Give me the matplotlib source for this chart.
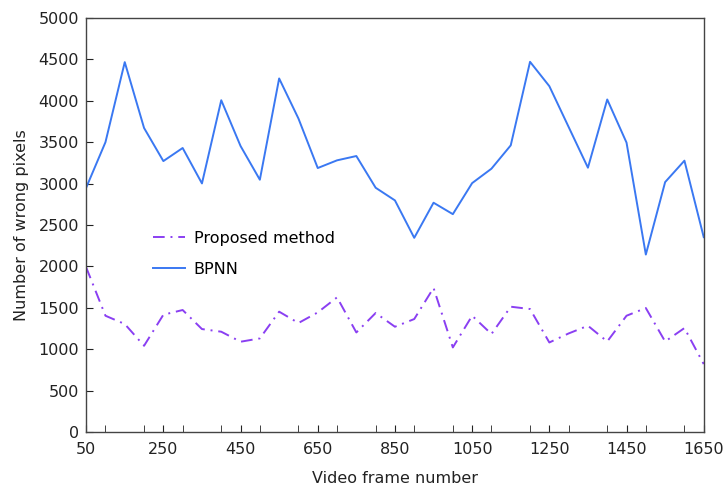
import matplotlib
matplotlib.use("Agg")
import matplotlib.pyplot as plt
from matplotlib.ticker import MultipleLocator

# Data (every 50 frames)
frames = list(range(50, 1651, 50))

bpnn = [2950, 3500, 4467, 3672, 3272, 3430, 3002, 4007, 3454, 3047,
        4270, 3786, 3188, 3281, 3333, 2950, 2797, 2345, 2769, 2631,
        3006, 3180, 3462, 4471, 4177, 3684, 3192, 4016, 3495, 2143,
        3018, 3277, 2353]

proposed = [1989, 1404, 1304, 1041, 1416, 1473, 1243, 1211, 1090, 1130,
            1453, 1316, 1444, 1626, 1202, 1437, 1271, 1364, 1740, 1021,
            1404, 1183, 1513, 1485, 1081, 1190, 1283, 1093, 1404, 1497,
            1093, 1255, 820]

x_ticks = list(range(50, 1651, 200))
y_ticks = list(range(0, 5001, 500))

plt.rcParams['font.family'] = ['DejaVu Sans']

fig = plt.figure(figsize=(7.24, 4.87), dpi=100)
ax = fig.add_axes([0.119, 0.113, 0.853, 0.850])

ax.plot(frames, proposed, color='#8a3ff2', linestyle=(0, (6, 3, 1, 3)),
        linewidth=1.4, label='Proposed method')
ax.plot(frames, bpnn, color='#3a78f2', linewidth=1.4, label='BPNN')

ax.set_xlim(50, 1650)
ax.set_ylim(0, 5000)
ax.set_xticks(x_ticks)
ax.xaxis.set_minor_locator(MultipleLocator(100))
ax.set_yticks(y_ticks)

ax.tick_params(axis='both', which='both', direction='in', labelsize=11.5,
               colors='#222222', top=False, right=False)
ax.tick_params(axis='x', which='major', length=5, pad=7)
ax.tick_params(axis='x', which='minor', length=5)
ax.tick_params(axis='y', which='major', length=5, pad=5)

for s in ax.spines.values():
    s.set_color('#444444')
    s.set_linewidth(1.0)

ax.set_xlabel('Video frame number', fontsize=11.5, color='#222222', labelpad=10)
ax.set_ylabel('Number of wrong pixels', fontsize=11.5, color='#222222', labelpad=7)

ax.legend(loc='upper left', bbox_to_anchor=(0.085, 0.52), frameon=False,
          fontsize=11.5, handlelength=2.0, handletextpad=0.55, labelspacing=1.0)

fig.savefig('out.png', dpi=100)
